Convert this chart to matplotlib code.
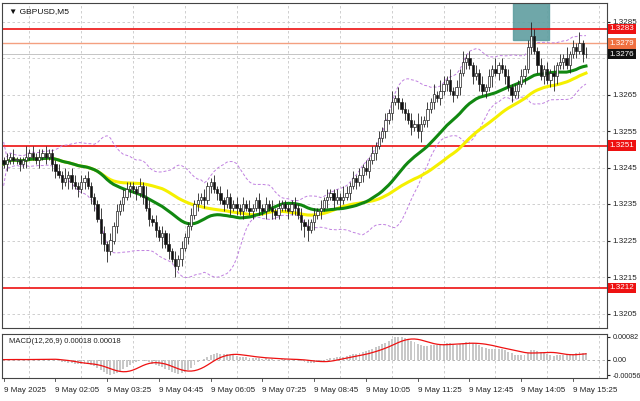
import numpy as np
import pandas as pd
import matplotlib
matplotlib.use("Agg")
import matplotlib.pyplot as plt
from matplotlib.patches import Rectangle

plt.rcParams["font.family"] = "Liberation Sans"

# closes in pips above 1.3200, M5 bars from 00:45
close_pips = [46, 47, 48, 47, 47, 46, 47, 48, 49, 48, 47, 48, 49, 48, 49, 46,
              44, 43, 41, 42, 43, 41,
              40, 39, 41, 42, 40, 37,
              35, 31, 27, 24, 22, 25,
              29, 33, 35, 37, 39, 40,
              39, 38, 40, 37, 34, 31,
              30, 28, 26, 27, 24, 22, 20,
              18, 20, 23, 26, 29, 32,
              35, 36, 37, 36, 40, 41,
              39, 38, 36, 35, 37, 34,
              35, 34, 33, 35, 34, 33, 34, 36, 34, 33, 35, 34, 33, 32, 34, 35, 34, 33,
              35, 34, 32, 30, 29,
              28, 30, 32, 33, 34,
              36, 37, 38, 36, 37, 36, 37,
              38, 40, 42, 41, 43,
              45, 44, 47, 49, 51, 53,
              55, 58, 60, 63, 64, 63,
              61, 60, 58, 56, 57, 55, 57,
              58, 61, 63, 65, 64, 66,
              68, 69, 66, 65, 67, 71, 74,
              75, 73, 70, 71, 68, 66,
              67, 70, 72, 71, 73, 72, 70,
              67, 65, 66, 68, 70,
              72, 78, 81,
              77, 73, 70, 72, 69, 71, 70,
              73, 74, 75, 73, 76,
              78, 77, 79, 76, 76]
open_first = 47
up_wick = "1212111312121211" "121312" "212121" "113212" "121221" "112132" "1212131" "212112" "121211" "212121" \
          "121212112121212111" "12121" "21212" "1211213" "21212" "121212" "121313" "1212132" "121313" "2131213" \
          "121212" "1213121" "21212" "124" "2121212" "12131" "21312"
dn_wick = "1211121211121212" "212132" "121212" "213231" "121212" "121212" "1213121" "312121" "121212" "121212" \
          "121211212121211112" "12123" "31212" "1212121" "12121" "212121" "121212" "1212123" "121212" "1212121" \
          "212121" "2131212" "12121" "212" "1212124" "21212" "12121"
x_labels = ["9 May 2025", "9 May 02:05", "9 May 03:25", "9 May 04:45", "9 May 06:05", "9 May 07:25",
            "9 May 08:45", "9 May 10:05", "9 May 11:25", "9 May 12:45", "9 May 14:05", "9 May 15:25"]
price_ticks = [1.3205, 1.3215, 1.3225, 1.3235, 1.3245, 1.3255, 1.3265, 1.3285]
macd_ticks = [0.00082, 0.0, -0.00056]
levels_red = [1.3283, 1.3251, 1.3212]
level_orange = 1.3279

close = 1.32 + np.array(close_pips) / 10000
opens = np.r_[1.32 + open_first / 10000, close[:-1]]
up = np.array([int(c) for c in up_wick]) / 10000
dn = np.array([int(c) for c in dn_wick]) / 10000
high = np.maximum(opens, close) + up
low = np.minimum(opens, close) - dn
n = len(close)
idx = np.arange(n)

s = pd.Series(close)
ma_green = s.rolling(30, min_periods=1).mean()
ma_yellow = s.rolling(50, min_periods=1).mean()
bb_mid = s.rolling(20, min_periods=1).mean()
bb_std = s.rolling(20, min_periods=1).std().fillna(0.0003)
macd = s.ewm(span=12).mean() - s.ewm(span=26).mean()
signal = macd.rolling(9, min_periods=1).mean()

fig = plt.figure(figsize=(6.4, 4.01), dpi=100)
W, H = 640, 401
ax = fig.add_axes([2 / W, 1 - 328 / H, 605 / W, 325 / H])
axm = fig.add_axes([2 / W, 1 - 378 / H, 605 / W, 44 / H])

xmin, xmax = -0.5, 186.5
ymin = 1.3255 - (328 - 131) / 36500
ymax = 1.3255 + (131 - 3) / 36500

for a, fs in ((ax, 5.8), (axm, 5.2)):
    a.set_xlim(xmin, xmax)
    for sp in a.spines.values():
        sp.set_color("#444444")
        sp.set_linewidth(0.8)
    a.tick_params(labelleft=False, left=False, right=True, labelright=True,
                  labelsize=fs, length=2.5, pad=1.5, colors="#222222", bottom=False, labelbottom=False)
    for g in range(8, n + 10, 16):
        a.axvline(g, color="#c8c8c8", ls=(0, (3, 3)), lw=0.6, zorder=0)

ax.set_ylim(ymin, ymax)
ax.set_yticks(price_ticks)
ax.set_yticklabels([f"{t:.4f}" for t in price_ticks])
for t in price_ticks + [1.3275]:
    ax.axhline(t, color="#c8c8c8", ls=(0, (3, 3)), lw=0.6, zorder=0)

ax.add_patch(Rectangle((157.5, 1.3280), 11, ymax - 1.3280, color="#5f9ea0", alpha=0.9, zorder=1))

for lv in levels_red:
    ax.axhline(lv, color="#ee1111", lw=1.2, zorder=2)
ax.axhline(level_orange, color="#f4a080", lw=1.0, zorder=2)
ax.axhline(close[-1], color="#bbbbbb", lw=0.6, zorder=2)

ax.plot(idx, bb_mid + 2 * bb_std, color="#c080e0", ls=(0, (3, 2)), lw=0.7, zorder=3)
ax.plot(idx, bb_mid - 2 * bb_std, color="#c080e0", ls=(0, (3, 2)), lw=0.7, zorder=3)
ax.plot(idx, ma_yellow, color="#f5f000", lw=2.2, zorder=4)
ax.plot(idx, ma_green, color="#118811", lw=2.2, zorder=5)

for i in range(n):
    ax.vlines(i, low[i], high[i], color="#222222", lw=0.6, zorder=6)
    bot, top = sorted((opens[i], close[i]))
    face = "white" if close[i] >= opens[i] else "#111111"
    ax.add_patch(Rectangle((i - 0.35, bot), 0.7, max(top - bot, 0.00002),
                           facecolor=face, edgecolor="#222222", lw=0.5, zorder=7))

def tag(a, y, txt, fc, tc="white"):
    a.text(1.004, y, txt, transform=a.get_yaxis_transform(), fontsize=5.8, color=tc,
           va="center", ha="left", zorder=10, clip_on=False,
           bbox=dict(boxstyle="square,pad=0.2", fc=fc, ec="none"))

for lv in levels_red:
    tag(ax, lv, f"{lv:.4f}", "#ee1111")
tag(ax, level_orange, f"{level_orange:.4f}", "#f07040")
tag(ax, close[-1], f"{close[-1]:.4f}", "#111111")

ax.text(0.012, 0.985, "\u25bc GBPUSD,M5", transform=ax.transAxes, fontsize=6, va="top", color="#111111")

# scale the MACD pane so the histogram peak sits at the top tick as in the reference
k = macd.max() / 0.00082
axm.bar(idx, macd, width=0.6, color="#c8c8c8", zorder=2)
axm.plot(idx, signal, color="#ee1111", lw=0.9, zorder=3)
axm.set_ylim(-0.00066 * k, 0.00092 * k)
axm.set_yticks([t * k for t in macd_ticks])
axm.set_yticklabels(["0.00082", "0.00", "-0.00056"])
axm.axhline(0, color="#aaaaaa", ls=(0, (3, 3)), lw=0.6, zorder=0)
axm.text(0.012, 0.9, "MACD(12,26,9) 0.00018 0.00018",
         transform=axm.transAxes, fontsize=5.5, va="top", color="#222222")

for j, lab in enumerate(x_labels):
    axm.text(j * 16, -0.2, lab, transform=axm.get_xaxis_transform(), fontsize=5.8,
             ha="left", va="top", color="#222222", clip_on=False)
    axm.plot([j * 16, j * 16], [0, -0.06], transform=axm.get_xaxis_transform(),
             color="#444444", lw=0.6, clip_on=False)

fig.savefig("out.png", dpi=100)
